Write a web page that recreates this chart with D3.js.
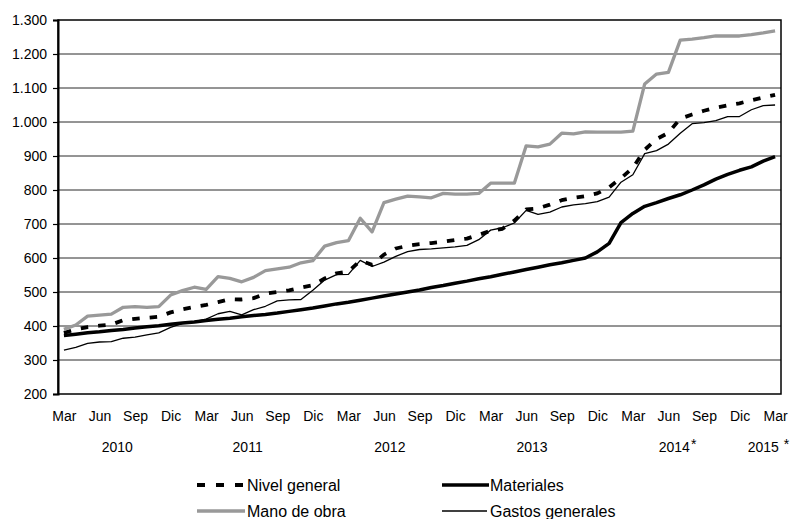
<!DOCTYPE html>
<html>
<head>
<meta charset="utf-8">
<script src="https://cdn.jsdelivr.net/npm/d3@7"></script>
<style>
  html, body { margin: 0; padding: 0; background: #fff; }
  svg { display: block; }
  text { font-family: "Liberation Sans", Arial, sans-serif; fill: #000; }
</style>
</head>
<body>
<svg id="chart" width="792" height="519"></svg>
<script>
// ---------- DATA ----------
const categories = [
  "Mar-10","Abr-10","May-10","Jun-10","Jul-10","Ago-10","Sep-10","Oct-10","Nov-10","Dic-10",
  "Ene-11","Feb-11","Mar-11","Abr-11","May-11","Jun-11","Jul-11","Ago-11","Sep-11","Oct-11","Nov-11","Dic-11",
  "Ene-12","Feb-12","Mar-12","Abr-12","May-12","Jun-12","Jul-12","Ago-12","Sep-12","Oct-12","Nov-12","Dic-12",
  "Ene-13","Feb-13","Mar-13","Abr-13","May-13","Jun-13","Jul-13","Ago-13","Sep-13","Oct-13","Nov-13","Dic-13",
  "Ene-14","Feb-14","Mar-14","Abr-14","May-14","Jun-14","Jul-14","Ago-14","Sep-14","Oct-14","Nov-14","Dic-14",
  "Ene-15","Feb-15","Mar-15"
];

const nivelGeneral = [
  380,390,397,401,404,417,421,424,427,440,
  449,456,462,470,479,478,482,495,500,505,513,520,
  540,555,560,592,580,610,628,636,641,644,648,653,
  657,668,680,686,710,743,746,757,770,777,782,790,
  808,835,865,918,950,968,1010,1022,1033,1042,1049,1055,
  1064,1072,1080
];

const materiales = [
  372,376,380,383,387,390,394,398,401,405,
  409,412,416,420,423,427,431,434,438,443,448,453,
  459,465,470,476,482,488,494,500,506,513,519,526,
  532,539,545,552,559,566,573,580,586,593,600,618,
  643,704,731,752,763,775,786,800,815,832,846,858,
  868,885,898
];

const manoDeObra = [
  390,403,429,432,435,455,457,455,457,491,
  504,514,508,545,540,530,543,563,568,573,586,592,
  635,645,651,717,677,763,773,782,780,777,790,788,
  788,790,820,820,820,930,927,935,967,965,971,970,
  970,970,973,1112,1141,1146,1241,1244,1248,1253,1253,1253,
  1257,1262,1268
];

const gastosGenerales = [
  329,337,349,353,354,364,367,374,380,396,
  408,413,420,436,443,433,448,458,474,477,478,505,
  535,551,552,593,575,588,605,619,625,627,630,633,
  637,654,682,689,703,740,728,735,750,756,760,766,
  779,823,845,907,916,935,967,995,998,1004,1016,1016,
  1036,1048,1050
];

const monthTickLabels = [
  "Mar","Jun","Sep","Dic","Mar","Jun","Sep","Dic","Mar","Jun","Sep",
  "Dic","Mar","Jun","Sep","Dic","Mar","Jun","Sep","Dic","Mar"
];

const yearLabels  = ["2010","2011","2012","2013","2014","2015"];
const yearSuffix  = ["","","","","*"," *"];

const yTickValues = [200,300,400,500,600,700,800,900,1000,1100,1200,1300];
const yTickLabels = ["200","300","400","500","600","700","800","900","1.000","1.100","1.200","1.300"];

const seriesNames = ["Nivel general","Materiales","Mano de obra","Gastos generales"];

// ---------- LAYOUT ----------
const svg = d3.select("#chart");
const L = 58, R = 781, T = 20, B = 394;

const x = d3.scalePoint().domain(categories).range([L, R]).padding(0.5);
const y = d3.scaleLinear().domain([200, 1300]).range([B, T]);

// gridlines
svg.append("g").selectAll("line").data(yTickValues.slice(1, -1)).join("line")
  .attr("x1", L).attr("x2", R)
  .attr("y1", d => y(d)).attr("y2", d => y(d))
  .attr("stroke", "#2a2a2a").attr("stroke-width", 1);

// plot frame
svg.append("rect").attr("x", L).attr("y", T).attr("width", R - L).attr("height", B - T)
  .attr("fill", "none").attr("stroke", "#000").attr("stroke-width", 1.5);

// y axis
const yAxis = d3.axisLeft(y).tickValues(yTickValues)
  .tickFormat((d, i) => yTickLabels[i]).tickSize(5).tickPadding(6);
const ya = svg.append("g").attr("transform", `translate(${L},0)`).call(yAxis);
ya.select(".domain").attr("stroke", "#000").attr("stroke-width", 2);
ya.selectAll(".tick line").attr("stroke", "#000").attr("stroke-width", 1.2);
ya.selectAll(".tick text").style("font-size", "14px")
  .style("font-family", '"Liberation Sans", Arial, sans-serif').attr("fill", "#000");

// x axis month labels
const tickCats = categories.filter((c, i) => i % 3 === 0);
const xAxis = d3.axisBottom(x).tickValues(tickCats)
  .tickFormat((d, i) => monthTickLabels[i]).tickSize(0).tickPadding(17);
const xa = svg.append("g").attr("transform", `translate(0,${B})`).call(xAxis);
xa.select(".domain").remove();
xa.selectAll(".tick text").style("font-size", "14px")
  .style("font-family", '"Liberation Sans", Arial, sans-serif').attr("fill", "#000");

// year labels, centred on the months of each year
const yg = svg.append("g");
yearLabels.forEach((yr, k) => {
  const cats = categories.filter(c => "20" + c.slice(-2) === yr);
  const cx = (x(cats[0]) + x(cats[cats.length - 1])) / 2;
  const t = yg.append("text").attr("x", cx).attr("y", 452)
    .attr("text-anchor", "middle").style("font-size", "14px").text(yr);
  if (yearSuffix[k]) {
    const w = t.node().getComputedTextLength();
    yg.append("text").attr("x", cx + w / 2 + (yearSuffix[k].startsWith(" ") ? 5 : 1))
      .attr("y", 449).style("font-size", "14px").text("*");
  }
});

// lines
const line = d3.line().x((d, i) => x(categories[i])).y(d => y(d));
const styles = [
  {data: nivelGeneral, color: "#000", width: 3.8, dash: "7.5,10"},
  {data: materiales, color: "#000", width: 3.5, dash: null},
  {data: manoDeObra, color: "#999999", width: 3.3, dash: null},
  {data: gastosGenerales, color: "#000", width: 1.3, dash: null}
];
styles.forEach(s => {
  svg.append("path").datum(s.data).attr("d", line)
    .attr("fill", "none").attr("stroke", s.color).attr("stroke-width", s.width)
    .attr("stroke-linejoin", "round")
    .attr("stroke-dasharray", s.dash);
});

// legend
const legendPos = [
  {x1: 197, x2: 243, tx: 247, y: 485},
  {x1: 442, x2: 489, tx: 490, y: 485},
  {x1: 197, x2: 245, tx: 247, y: 511},
  {x1: 442, x2: 487, tx: 490, y: 511}
];
seriesNames.forEach((name, i) => {
  const p = legendPos[i], s = styles[i];
  svg.append("line").attr("x1", p.x1).attr("x2", p.x2).attr("y1", p.y).attr("y2", p.y)
    .attr("stroke", s.color).attr("stroke-width", s.width)
    .attr("stroke-dasharray", s.dash ? "8,11" : null);
  svg.append("text").attr("x", p.tx).attr("y", p.y).attr("dy", "0.35em")
    .style("font-size", "16px").text(name);
});
</script>
</body>
</html>
